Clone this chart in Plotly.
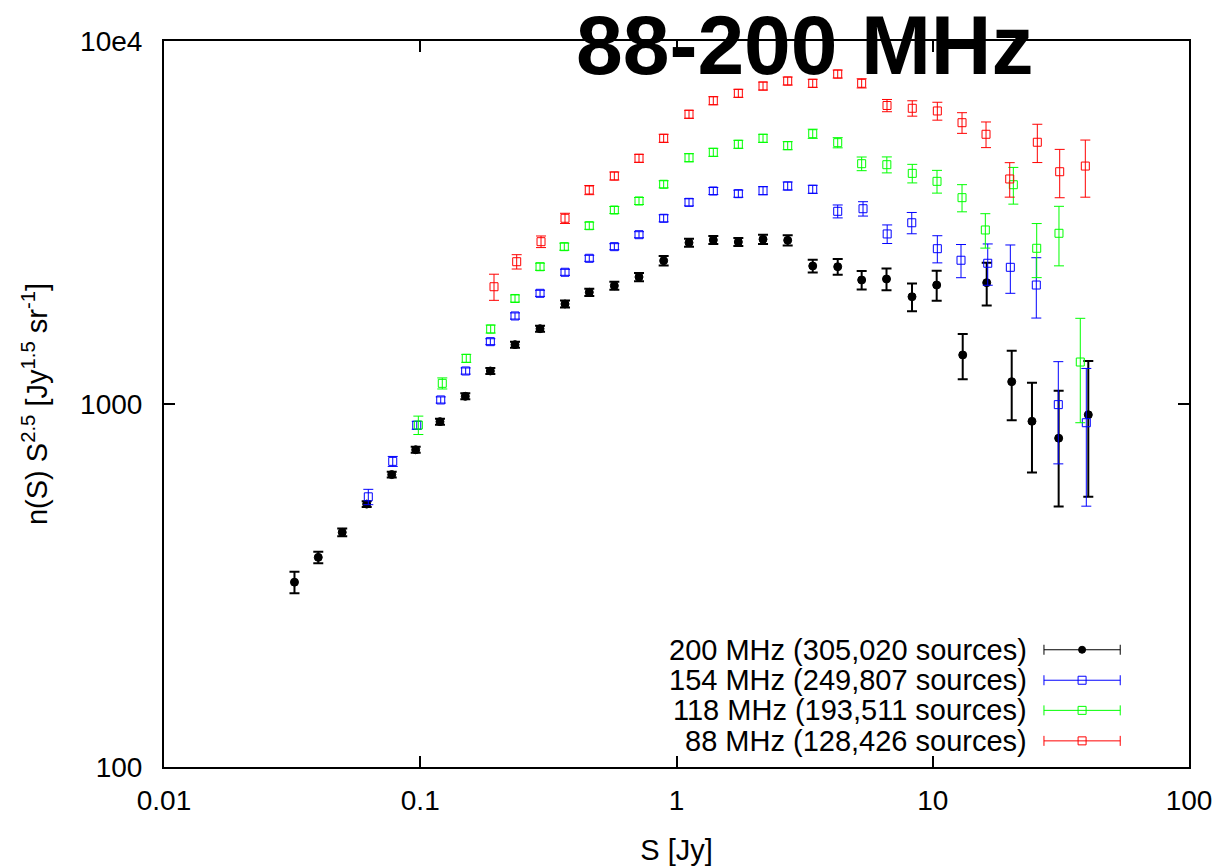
import plotly.graph_objects as go

# ---------------- data ----------------
s200 = [0.0323, 0.0400, 0.0496, 0.0618, 0.0774, 0.0960, 0.1194, 0.1499, 0.1877, 0.2343,
        0.2934, 0.3672, 0.4567, 0.572, 0.714, 0.891, 1.119, 1.392, 1.743, 2.176,
        2.716, 3.401, 4.257, 5.28, 6.60, 8.30, 10.36, 13.09, 16.24, 20.33,
        24.39, 31.00, 40.46]
n200 = [323, 378, 443, 530, 639, 748, 894, 1050, 1233, 1457,
        1612, 1886, 2031, 2118, 2238, 2482, 2782, 2830, 2795, 2843,
        2825, 2400, 2389, 2196, 2210, 1975, 2127, 1365, 2159, 1152,
        896, 805, 934]
e200 = [22, 14, 11, 10, 12, 14, 17, 20, 24, 28,
        31, 42, 46, 54, 58, 75, 72, 73, 72, 82,
        91, 98, 120, 129, 152, 174, 202, 195, 292, 250,
        248, 283, 379]

s154 = [0.0627, 0.0781, 0.0969, 0.1202, 0.1504, 0.1877, 0.2343, 0.2934, 0.3672, 0.4567,
        0.572, 0.714, 0.891, 1.119, 1.392, 1.743, 2.176, 2.716, 3.401, 4.257,
        5.344, 6.64, 8.28, 10.42, 12.89, 16.39, 20.08, 25.36, 30.90, 39.74]
n154 = [555, 695, 874, 1026, 1233, 1485, 1748, 2018, 2306, 2520,
        2713, 2927, 3248, 3594, 3862, 3797, 3870, 3987, 3904, 3395,
        3451, 2941, 3157, 2678, 2489, 2442, 2380, 2127, 996, 888]
e154 = [27, 22, 22, 20, 24, 28, 34, 39, 44, 48,
        52, 56, 73, 81, 87, 85, 99, 102, 100, 139,
        157, 173, 213, 230, 261, 318, 362, 402, 312, 365]

s118 = [0.0983, 0.1219, 0.1512, 0.1883, 0.2343, 0.2934, 0.3649, 0.4567, 0.572, 0.714,
        0.891, 1.119, 1.392, 1.743, 2.176, 2.716, 3.401, 4.257, 5.28, 6.62,
        8.32, 10.39, 13.01, 16.04, 20.63, 25.45, 31.09, 37.65]
n118 = [875, 1140, 1336, 1609, 1953, 2389, 2713, 3099, 3423, 3625,
        4030, 4770, 4936, 5194, 5395, 5149, 5554, 5247, 4592, 4563,
        4319, 4106, 3702, 3016, 4019, 2685, 2953, 1305]
e118 = [51, 40, 34, 41, 44, 54, 61, 70, 77, 82,
        91, 123, 127, 133, 139, 132, 161, 169, 199, 231,
        254, 296, 318, 328, 466, 456, 551, 417]

s88 = [0.1940, 0.2379, 0.2960, 0.3672, 0.4567, 0.572, 0.714, 0.891, 1.119, 1.392,
       1.743, 2.176, 2.716, 3.401, 4.257, 5.28, 6.63, 8.32, 10.42, 13.01,
       16.14, 19.97, 25.59, 31.29, 39.39]
n88 = [2104, 2466, 2800, 3248, 3886, 4248, 4752, 5395, 6284, 6848,
       7177, 7516, 7759, 7647, 8111, 7647, 6643, 6526, 6416, 5956,
       5534, 4168, 5261, 4364, 4524]
e88 = [174, 112, 103, 105, 113, 109, 122, 139, 161, 176,
       184, 193, 199, 197, 208, 222, 258, 318, 364, 390,
       449, 454, 636, 664, 811]

labels = ["200 MHz (305,020 sources)", "154 MHz (249,807 sources)",
          "118 MHz (193,511 sources)", "88 MHz (128,426 sources)"]
x_tickvals = [0.01, 0.1, 1, 10, 100]
x_ticktext = ["0.01", "0.1", "1", "10", "100"]
y_tickvals = [100, 1000, 10000]
y_ticktext = ["100", "1000", "10e4"]
title_text = "88-200 MHz"

# ---------------- styles ----------------
FONT = "Liberation Sans, Arial, Helvetica, sans-serif"
series = [
    (s200, n200, e200, "black", "circle", 2),
    (s154, n154, e154, "#0000ff", "square-open", 1),
    (s118, n118, e118, "#00ff00", "square-open", 1),
    (s88, n88, e88, "#ff0000", "square-open", 1),
]

fig = go.Figure()
for (sx, ny, ey, col, sym, th), lab in zip(series, labels):
    fig.add_trace(go.Scatter(
        x=sx, y=ny, mode="markers", name=lab, showlegend=False,
        marker=dict(symbol=sym, size=8, color=col, line=dict(color=col, width=1)),
        error_y=dict(type="data", array=ey, visible=True, color=col,
                     thickness=th, width=5),
    ))

# custom legend (text right-aligned, key on the right) using an overlay 0-1 axis
leg_rows = [0.1615, 0.1195, 0.078, 0.036]
key_x = 0.8957
key_half = 0.0372
text_x = 0.8435
for (sx, ny, ey, col, sym, th), lab, ry in zip(series, labels, leg_rows):
    fig.add_trace(go.Scatter(
        x=[key_x], y=[ry], xaxis="x2", yaxis="y2", mode="markers", showlegend=False,
        marker=dict(symbol=sym, size=7 if sym == "circle" else 8, color=col,
                    line=dict(color=col, width=1)),
        error_x=dict(type="constant", value=key_half, visible=True, color=col,
                     thickness=1, width=5),
        hoverinfo="skip",
    ))
    fig.add_annotation(x=text_x, y=ry, xref="paper", yref="paper", text=lab,
                       showarrow=False, xanchor="right", yanchor="middle",
                       font=dict(family=FONT, size=29, color="black"))

fig.add_annotation(x=0.6254, y=0.994, xref="paper", yref="paper", text="<b>" + title_text + "</b>",
                   showarrow=False, xanchor="center", yanchor="middle",
                   font=dict(family=FONT, size=84, color="black"))

axis_common = dict(
    showline=True, linecolor="black", linewidth=2, mirror="ticks",
    ticks="inside", ticklen=11, tickwidth=1.5, tickcolor="black",
    showgrid=False, zeroline=False, automargin=False,
    tickfont=dict(family=FONT, size=28, color="black"),
)

fig.update_layout(
    width=1222, height=866,
    margin=dict(l=164, r=33, t=41, b=99),
    paper_bgcolor="white", plot_bgcolor="white",
    font=dict(family=FONT, size=28, color="black"),
    showlegend=False,
    xaxis=dict(type="log", range=[-2, 2], tickvals=x_tickvals, ticktext=x_ticktext,
               ticklabelstandoff=7,
               title=dict(text="S [Jy]", font=dict(family=FONT, size=29), standoff=25),
               **axis_common),
    yaxis=dict(type="log", range=[2, 4], tickvals=y_tickvals, ticktext=y_ticktext,
               ticklabelstandoff=14,
               title=dict(text="n(S) S<sup>2.5</sup> [Jy<sup>1.5</sup> sr<sup>-1</sup>]",
                          font=dict(family=FONT, size=29), standoff=24),
               **axis_common),
    xaxis2=dict(overlaying="x", range=[0, 1], visible=False, fixedrange=True),
    yaxis2=dict(overlaying="y", range=[0, 1], visible=False, fixedrange=True),
)

fig.write_html("out.html")
